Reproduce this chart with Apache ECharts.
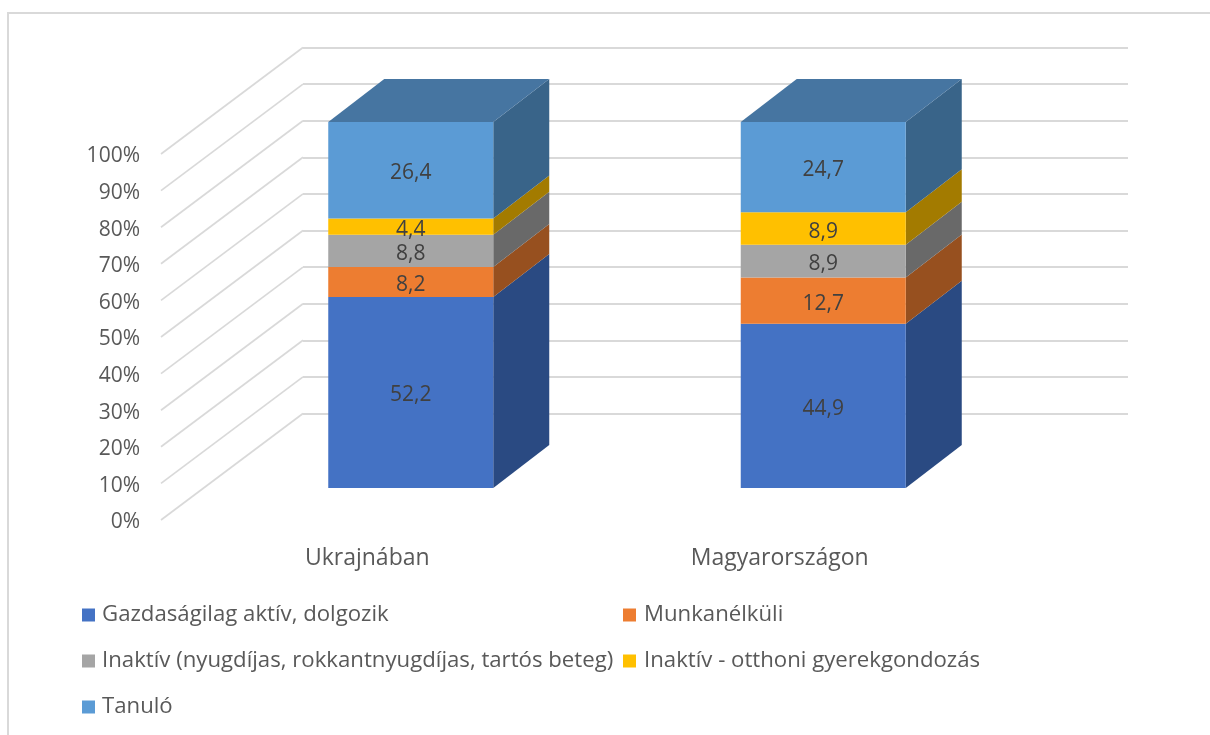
<!DOCTYPE html>
<html>
<head>
<meta charset="utf-8">
<title>Ukrajnában / Magyarországon</title>
<style>
html,body{margin:0;padding:0;background:#fff;}
#main{width:1210px;height:735px;}
</style>
<script src="https://cdn.jsdelivr.net/npm/echarts@6/dist/echarts.min.js"></script>
</head>
<body>
<div id="main"></div>
<script>
var categories = ['Ukrajnában', 'Magyarországon'];
var aktiv = [52.2, 44.9];
var munkanelkuli = [8.2, 12.7];
var nyugdijas = [8.8, 8.9];
var gyerekgondozas = [4.4, 8.9];
var tanulo = [26.4, 24.7];
var yTicks = [0, 10, 20, 30, 40, 50, 60, 70, 80, 90, 100];

var names = [
  'Gazdaságilag aktív, dolgozik',
  'Munkanélküli',
  'Inaktív (nyugdíjas, rokkantnyugdíjas, tartós beteg)',
  'Inaktív - otthoni gyerekgondozás',
  'Tanuló'
];
var stackValues = [aktiv, munkanelkuli, nyugdijas, gyerekgondozas, tanulo];
var frontColors = ['#4472C4', '#ED7D31', '#A5A5A5', '#FFC000', '#5B9BD5'];
var sideColors = ['#2A4A82', '#97501F', '#696969', '#A37B00', '#396489'];
var topColor = '#4675A1';
var gridColor = '#D9D9D9';
var fontName = '"Open Sans", sans-serif';

// a 3D oszlop eltolasai, pixelben
var labelDy = 2.5; // a tengelyfeliratok ennyivel lejjebb vannak a vonalaknal
var frontDx = 43.5, frontDy = -32 - labelDy;
var depthDx = 56, depthDy = -43;
var wallDx = 142, wallDy = -106.5;
var barWidth = 165;

// 100%-ra halmozott arany
function share(s, c) {
  var total = 0, below = 0;
  stackValues.forEach(function (arr, i) {
    total += arr[c];
    if (i < s) below += arr[c];
  });
  return [below / total * 100, (below + stackValues[s][c]) / total * 100];
}

function poly(points, color) {
  return { type: 'polygon', shape: { points: points }, style: { fill: color } };
}

function renderSegment(s) {
  return function (params, api) {
    var c = api.value(0);
    var range = share(s, c);
    var p0 = api.coord([c, range[0]]);
    var p1 = api.coord([c, range[1]]);
    var x0 = p0[0] + frontDx - barWidth / 2;
    var x1 = x0 + barWidth;
    var y0 = p0[1] + frontDy;
    var y1 = p1[1] + frontDy;
    var children = [
      poly([[x1, y0], [x1 + depthDx, y0 + depthDy], [x1 + depthDx, y1 + depthDy], [x1, y1]], sideColors[s]),
      poly([[x0, y0], [x1, y0], [x1, y1], [x0, y1]], frontColors[s])
    ];
    if (s === stackValues.length - 1) {
      children.push(poly([[x0, y1], [x1, y1], [x1 + depthDx, y1 + depthDy], [x0 + depthDx, y1 + depthDy]], topColor));
    }
    children.push({
      type: 'text',
      style: {
        x: (x0 + x1) / 2,
        y: (y0 + y1) / 2 + 3,
        text: String(api.value(1)).replace('.', ','),
        fill: '#404040',
        font: '21px ' + fontName,
        align: 'center',
        verticalAlign: 'middle'
      }
    });
    return { type: 'group', children: children };
  };
}

function renderDiagonal(params, api) {
  var p = api.coord([0, api.value(1)]);
  var x = params.coordSys.x;
  var y = p[1] - labelDy;
  return {
    type: 'line',
    shape: { x1: x, y1: y, x2: x + wallDx, y2: y + wallDy },
    style: { stroke: gridColor, lineWidth: 1.7 }
  };
}

var series = [{
  type: 'custom',
  silent: true,
  xAxisIndex: 0,
  yAxisIndex: 0,
  clip: false,
  renderItem: renderDiagonal,
  encode: { x: 0, y: 1 },
  data: yTicks.map(function (t) { return [0, t]; }),
  z: 1
}];

names.forEach(function (name, s) {
  series.push({
    name: name,
    type: 'custom',
    xAxisIndex: 0,
    yAxisIndex: 0,
    clip: false,
    renderItem: renderSegment(s),
    encode: { x: 0, y: 1 },
    itemStyle: { color: frontColors[s] },
    data: stackValues[s].map(function (v, c) { return [c, v]; }),
    z: 2
  });
});

var legendPos = [[82, 604], [623, 604], [82, 650], [623, 650], [82, 696]];
var legendTextPad = [2, 3, 2, 3, 2];

var option = {
  animation: false,
  backgroundColor: '#fff',
  textStyle: { fontFamily: fontName },
  graphic: [{
    type: 'rect',
    silent: true,
    shape: { x: 8, y: 13, width: 1400, height: 900 },
    style: { fill: 'none', stroke: gridColor, lineWidth: 2 }
  }],
  grid: [
    { left: 161, top: 154 + labelDy, width: 825, height: 366 },
    { left: 303, top: 47.5, width: 825, height: 366 }
  ],
  xAxis: [
    {
      type: 'category',
      gridIndex: 0,
      data: categories,
      axisLine: { show: false },
      axisTick: { show: false },
      axisLabel: { color: '#595959', fontSize: 23, margin: 24, fontFamily: fontName }
    },
    { type: 'category', gridIndex: 1, data: categories, show: false }
  ],
  yAxis: [
    {
      type: 'value',
      gridIndex: 0,
      min: 0,
      max: 100,
      interval: 10,
      splitLine: { show: false },
      axisLine: { show: false },
      axisTick: { show: false },
      axisLabel: { color: '#595959', fontSize: 21, margin: 21, fontFamily: fontName, formatter: '{value}%' }
    },
    {
      type: 'value',
      gridIndex: 1,
      min: 0,
      max: 100,
      interval: 10,
      axisLine: { show: false },
      axisTick: { show: false },
      axisLabel: { show: false },
      splitLine: { show: true, lineStyle: { color: gridColor, width: 2 } }
    }
  ],
  legend: names.map(function (name, i) {
    return {
      left: legendPos[i][0],
      top: legendPos[i][1],
      data: [name],
      padding: 0,
      icon: 'rect',
      itemWidth: 13,
      itemHeight: 13,
      selectedMode: false,
      textStyle: { color: '#595959', fontSize: 22.2, fontFamily: fontName, padding: [0, 0, 0, legendTextPad[i]] }
    };
  }),
  series: series
};

var chart = echarts.init(document.getElementById('main'), null, { renderer: 'canvas' });
chart.setOption(option);
</script>
</body>
</html>
